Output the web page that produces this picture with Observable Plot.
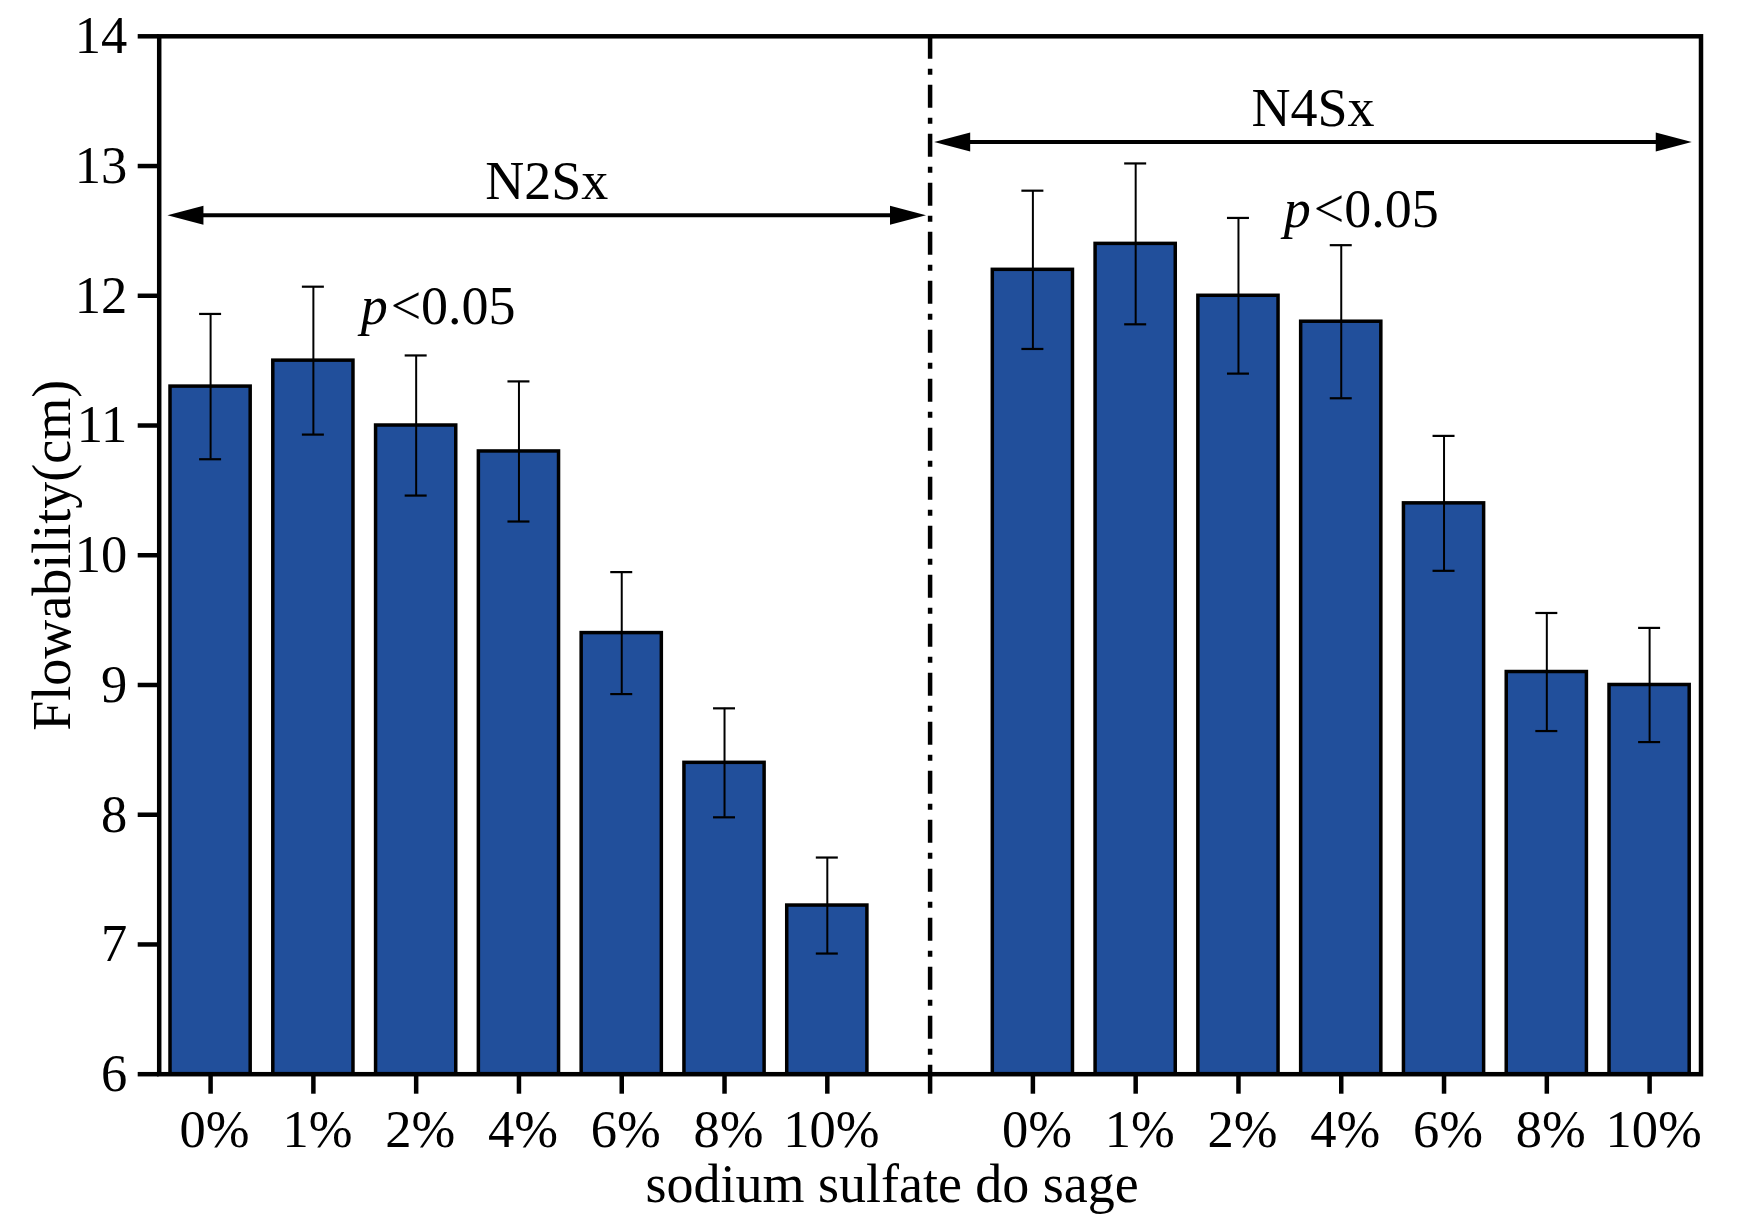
<!DOCTYPE html>
<html>
<head>
<meta charset="utf-8">
<script src="https://cdn.jsdelivr.net/npm/d3@7"></script>
<script src="https://cdn.jsdelivr.net/npm/@observablehq/plot@0.6"></script>
<style>
  html, body { margin: 0; padding: 0; background: #ffffff; }
  #chart svg { display: block; }
</style>
</head>
<body>
<div id="chart"></div>
<script>
// ---------------- data ----------------
const doses = ["0%", "1%", "2%", "4%", "6%", "8%", "10%"];
const groups = ["N2Sx", "N4Sx"];
const n2sxValues = [11.3, 11.5, 11.0, 10.8, 9.4, 8.4, 7.3];
const n2sxErrors = [0.56, 0.57, 0.54, 0.54, 0.47, 0.42, 0.37];
const n4sxValues = [12.2, 12.4, 12.0, 11.8, 10.4, 9.1, 9.0];
const n4sxErrors = [0.61, 0.62, 0.60, 0.59, 0.52, 0.455, 0.44];

const yDomain = [6, 14];
const yTicks = [6, 7, 8, 9, 10, 11, 12, 13, 14];

// group bracket annotations (x in slot units, y in cm)
const bracketStart = [-0.42, 7.04];
const bracketEnd = [6.96, 14.41];
const bracketY = [12.62, 13.185];
// significance notes
const noteX = [1.46, 10.44];
const noteY = [11.786, 12.529];
const noteItalic = "p";
const noteRest = "<0.05";

const xLabel = "sodium sulfate do sage";
const yLabel = "Flowability(cm)";

// ---------------- derived tables ----------------
const slotsPerGroup = doses.length + 1; // one empty slot as a divider
const dividerSlot = doses.length;
const slotLabels = [...doses, "", ...doses];
const slotTicks = d3.range(slotLabels.length);

const valueSets = [n2sxValues, n4sxValues];
const errorSets = [n2sxErrors, n4sxErrors];
const table = [];
groups.forEach((g, gi) => {
  doses.forEach((dose, i) => {
    table.push({
      group: g,
      dose,
      slot: gi * slotsPerGroup + i,
      value: valueSets[gi][i],
      err: errorSets[gi][i]
    });
  });
});

const brackets = groups.map((g, i) => ({
  name: g, x1: bracketStart[i], x2: bracketEnd[i], y: bracketY[i], xm: (bracketStart[i] + bracketEnd[i]) / 2
}));
const arrowHeads = brackets.flatMap(b => [
  {x: b.x1, y: b.y, angle: 180},
  {x: b.x2, y: b.y, angle: 0}
]);
const notes = noteX.map((x, i) => ({x, y: noteY[i]}));

// ---------------- styles ----------------
const barFill = "#214f9b";
const font = "'Liberation Serif', 'Times New Roman', Times, serif";
const fs = 54;
const tickFs = 52.5;
const barHalf = 0.39;
const capHalf = 0.107;

// filled, elongated arrowhead, tip at the anchor point, pointing right
const arrowSymbol = {
  draw(ctx) {
    ctx.moveTo(0, 0);
    ctx.lineTo(-36, -9.5);
    ctx.lineTo(-36, 9.5);
    ctx.closePath();
  }
};

const chart = Plot.plot({
  width: 1752,
  height: 1230,
  marginLeft: 158.7,
  marginRight: 51.5,
  marginTop: 35.8,
  marginBottom: 156.3,
  style: {fontFamily: font, fontSize: `${fs}px`, color: "#000", background: "#fff"},
  x: {type: "linear", domain: [-0.5, slotLabels.length - 0.5]},
  y: {domain: yDomain},
  marks: [
    Plot.rectY(table, {
      x1: d => d.slot - barHalf, x2: d => d.slot + barHalf,
      y1: yDomain[0], y2: "value",
      fill: barFill, stroke: "#000", strokeWidth: 3.5
    }),
    // error bars
    Plot.ruleX(table, {x: "slot", y1: d => d.value - d.err, y2: d => d.value + d.err, stroke: "#000", strokeWidth: 2}),
    Plot.ruleY(table, {x1: d => d.slot - capHalf, x2: d => d.slot + capHalf, y: d => d.value + d.err, stroke: "#000", strokeWidth: 2.2}),
    Plot.ruleY(table, {x1: d => d.slot - capHalf, x2: d => d.slot + capHalf, y: d => d.value - d.err, stroke: "#000", strokeWidth: 2.2}),
    // divider (dash-dot)
    Plot.ruleX([dividerSlot], {stroke: "#000", strokeWidth: 4.5, strokeDasharray: "23,10,6,10"}),
    // brackets
    Plot.ruleY(brackets, {x1: "x1", x2: "x2", y: "y", stroke: "#000", strokeWidth: 4, insetLeft: 20, insetRight: 20}),
    Plot.dot(arrowHeads, {x: "x", y: "y", rotate: "angle", symbol: arrowSymbol, fill: "#000", stroke: null, r: 5}),
    Plot.text(brackets, {x: "xm", y: "y", text: "name", lineAnchor: "bottom", dy: -16, fontSize: fs, fill: "#000"}),
    // significance notes
    Plot.text(notes, {x: "x", y: "y", text: () => noteItalic, textAnchor: "start", lineAnchor: "bottom", fontStyle: "italic", fontSize: fs, fill: "#000"}),
    Plot.text(notes, {x: "x", y: "y", text: () => noteRest, textAnchor: "start", lineAnchor: "bottom", dx: 30, fontSize: fs, fill: "#000"}),
    // axes
    Plot.axisY({ticks: yTicks, tickSize: 21, tickPadding: 11, strokeWidth: 4.5, label: null, fontSize: tickFs, tickFormat: d => String(d)}),
    Plot.axisX({ticks: slotTicks, tickSize: 20, tickPadding: 16, strokeWidth: 4.5, label: null, fontSize: tickFs, textStroke: null, tickFormat: i => slotLabels[i]}),
    // axis titles
    Plot.text([xLabel], {frameAnchor: "bottom", text: d => d, dx: -38, dy: 111, textAnchor: "middle", lineAnchor: "middle", fontSize: fs, fill: "#000"}),
    Plot.text([yLabel], {frameAnchor: "left", text: d => d, dx: -106, rotate: -90, textAnchor: "middle", lineAnchor: "middle", fontSize: fs, fill: "#000"}),
    Plot.frame({stroke: "#000", strokeWidth: 4.5})
  ]
});

// nudge the x tick labels slightly right, as in the reference
d3.select(chart).selectAll("[aria-label='x-axis tick label'] text").attr("dx", 4);

document.getElementById("chart").appendChild(chart);
</script>
</body>
</html>
